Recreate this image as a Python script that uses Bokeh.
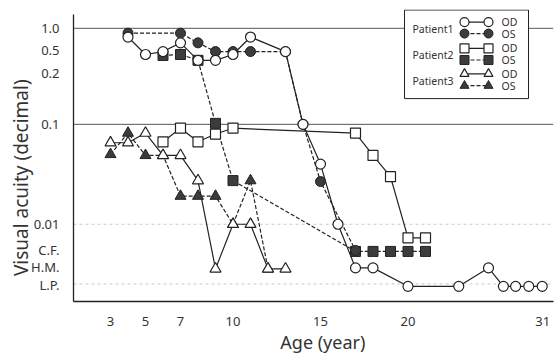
from bokeh.plotting import figure
from bokeh.models import Span, FixedTicker
from bokeh.core.properties import value
from bokeh.embed import file_html
from bokeh.resources import INLINE

# ---------------- data (x = age position on axis, y = acuity position on axis) ----------------
X_TICKS = [3, 5, 7, 10, 15, 20, 27.7]
X_TICK_LABELS = ["3", "5", "7", "10", "15", "20", "31"]

Y_TICKS = [0, -0.22, -0.46, -0.99, -2.02, -2.29, -2.46, -2.65]
Y_TICK_LABELS = ["1.0", "0.5", "0.2", "0.1", "0.01", "C.F.", "H.M.", "L.P."]

P1_OD_AGE = [4, 5, 6, 7, 8, 9, 10, 11, 13, 14, 15, 16, 17, 18, 20, 22.9, 24.6, 25.45, 26.15, 26.9, 27.67]
P1_OD_VA = [-0.09, -0.27, -0.24, -0.15, -0.33, -0.33, -0.27, -0.09, -0.24, -0.99, -1.40, -2.02,
            -2.47, -2.47, -2.66, -2.66, -2.47, -2.66, -2.66, -2.66, -2.66]

P1_OS_AGE = [4, 7, 8, 9, 10, 11, 13, 14, 15, 17]
P1_OS_VA = [-0.05, -0.05, -0.15, -0.24, -0.24, -0.24, -0.24, -0.99, -1.58, -2.29]

P2_OD_AGE = [6, 7, 8, 9, 10, 17, 18, 19, 20, 21]
P2_OD_VA = [-1.17, -1.03, -1.17, -1.09, -1.03, -1.08, -1.31, -1.53, -2.16, -2.16]

P2_OS_AGE = [6, 7, 8, 9, 10, 17, 18, 19, 20, 21]
P2_OS_VA = [-0.28, -0.27, -0.33, -0.98, -1.57, -2.30, -2.30, -2.30, -2.30, -2.30]

P3_OD_AGE = [3, 4, 5, 6, 7, 8, 9, 10, 11, 12, 13]
P3_OD_VA = [-1.18, -1.18, -1.08, -1.31, -1.31, -1.57, -2.48, -2.02, -2.02, -2.48, -2.48]

P3_OS_AGE = [3, 4, 5, 6, 7, 8, 9, 10, 11, 12]
P3_OS_VA = [-1.30, -1.08, -1.31, -1.31, -1.73, -1.73, -1.73, -2.02, -1.57, -2.48]

PATIENTS = ["Patient1", "Patient2", "Patient3"]
EYES = ["OD", "OS"]
X_TITLE = "Age (year)"
Y_TITLE = "Visual acuity (decimal)"

# ---------------- layout helpers (page pixel -> axis units) ----------------
def ax(px):
    return (px - 57.5) / 17.5

def ay(py):
    return -(py - 28) / 98.0

X0, X1 = ax(73), ax(553)
Y0, Y1 = ay(304), ay(9)

FONT = "Noto Sans"
INK = "#222222"
FILL = "#3c3c3c"
TXT = "#333333"
NBSP = "\u00a0"

p = figure(width=556, height=356, output_backend="svg", toolbar_location=None,
           x_range=(X0, X1), y_range=(Y0, Y1), title=None,
           min_border_left=73, min_border_right=3, min_border_top=9, min_border_bottom=52)
p.outline_line_color = None
p.background_fill_color = "white"
p.xgrid.visible = False
p.ygrid.visible = False

# axes
for axis in (p.xaxis[0], p.yaxis[0]):
    axis.major_tick_line_color = None
    axis.minor_tick_line_color = None
    axis.axis_line_color = INK
    axis.axis_line_width = 1.3
    axis.major_label_text_font = FONT
    axis.major_label_text_font_size = "13px"
    axis.major_label_text_color = TXT
    axis.major_label_standoff = 8
    axis.axis_label_text_font = FONT
    axis.axis_label_text_font_style = "normal"
    axis.axis_label_text_color = TXT

p.xaxis.ticker = FixedTicker(ticks=X_TICKS)
p.xaxis.major_label_overrides = dict(zip(X_TICKS, X_TICK_LABELS))
p.xaxis.major_label_standoff = 9
p.xaxis.axis_label = NBSP * 4 + X_TITLE
p.xaxis.axis_label_standoff = 1
p.xaxis.axis_label_text_font_size = "18px"
p.yaxis.ticker = FixedTicker(ticks=Y_TICKS)
p.yaxis.major_label_overrides = dict(zip(Y_TICKS, Y_TICK_LABELS))
p.yaxis.bounds = (Y0, ay(14))
p.yaxis.axis_label = Y_TITLE + NBSP * 9
p.yaxis.axis_label_standoff = -6
p.yaxis.axis_label_text_font_size = "19px"

# reference lines
p.add_layout(Span(location=0, dimension="width", line_color="#555555", line_width=1, level="underlay"))
p.add_layout(Span(location=-0.99, dimension="width", line_color="#555555", line_width=1, level="underlay"))
p.add_layout(Span(location=-2.02, dimension="width", line_color="#c8c8c8", line_width=1,
                  line_dash="3 3", level="underlay"))
p.add_layout(Span(location=-2.635, dimension="width", line_color="#c8c8c8", line_width=1,
                  line_dash="3 3", level="underlay"))

SOLID = dict(line_color=INK, line_width=1.2)
DASH = dict(line_color=INK, line_width=1.2, line_dash="4 2")
OPEN = dict(fill_color="white", line_color=INK, line_width=1.2)
FULL = dict(fill_color=FILL, line_color=INK, line_width=1)

series = [
    (P3_OS_AGE, P3_OS_VA, "triangle", FULL, DASH, 11),
    (P3_OD_AGE, P3_OD_VA, "triangle", OPEN, SOLID, 11),
    (P2_OD_AGE, P2_OD_VA, "square", OPEN, SOLID, 10),
    (P2_OS_AGE, P2_OS_VA, "square", FULL, DASH, 10),
    (P1_OS_AGE, P1_OS_VA, "circle", FULL, DASH, 10),
    (P1_OD_AGE, P1_OD_VA, "circle", OPEN, SOLID, 10),
]
for xs, ys, mk, mstyle, lstyle, sz in series:
    p.line(xs, ys, **lstyle)
for xs, ys, mk, mstyle, lstyle, sz in series:
    p.scatter(xs, ys, marker=mk, size=sz, **mstyle)

# ---------------- legend (drawn by hand) ----------------
p.quad(left=[ax(404)], right=[ax(528)], top=[ay(9.5)], bottom=[ay(99)],
       fill_color="white", line_color=INK, line_width=1)
leg_markers = ["circle", "square", "triangle"]
row_y = [(21.7, 33.3), (48.3, 60), (74, 86)]
pat_y = [29, 55, 81.5]
for i in range(3):
    for j in range(2):
        yy = ay(row_y[i][j])
        if j == 0:
            p.line([ax(464), ax(488)], [yy, yy], **SOLID)
            p.scatter([ax(464), ax(488)], [yy, yy], marker=leg_markers[i], size=9, **OPEN)
        else:
            p.line([ax(464), ax(488)], [yy, yy], **DASH)
            p.scatter([ax(464), ax(488)], [yy, yy], marker=leg_markers[i], size=9, **FULL)
        p.text([ax(501)], [yy], text=[EYES[j]], text_font=value(FONT), text_font_size="10.5px",
               text_baseline="middle", text_align="left", text_color=TXT)
    p.text([ax(412)], [ay(pat_y[i])], text=[PATIENTS[i]], text_font=value(FONT),
           text_font_size="10.5px", text_baseline="middle", text_align="left", text_color=TXT)

open("out.html", "w").write(file_html(p, INLINE))
